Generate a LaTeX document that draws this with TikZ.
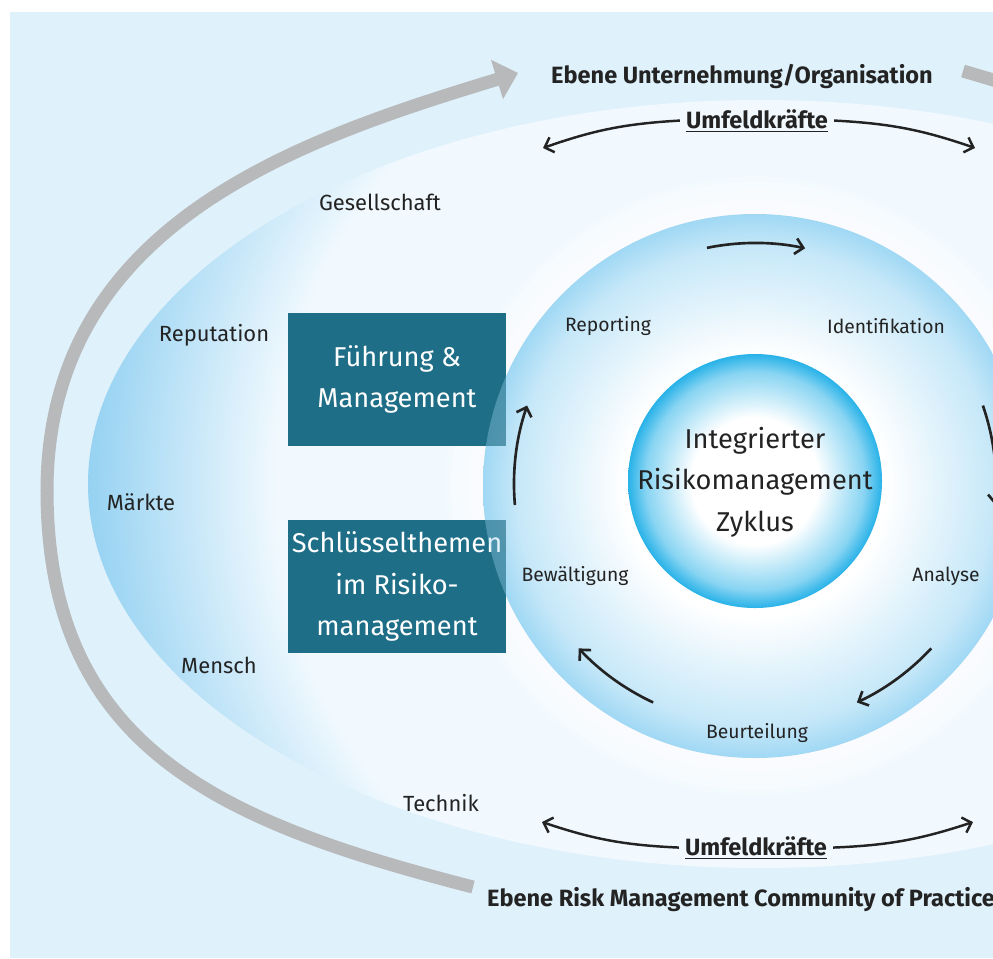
\documentclass[tikz,border=0pt]{standalone}
\usepackage{fontspec}
\setmainfont{Fira Sans}
\usetikzlibrary{arrows.meta}

\definecolor{bgblue}{RGB}{223,241,251}
\definecolor{ellpale}{RGB}{241,249,254}
\definecolor{rimblue}{RGB}{150,210,242}
\definecolor{cycblue}{RGB}{160,216,244}
\colorlet{cycmid}{cycblue!60}
\definecolor{coreblue}{RGB}{40,178,232}
\colorlet{coremid}{coreblue!55}
\definecolor{boxteal}{RGB}{31,110,135}
\definecolor{arcgray}{RGB}{184,185,187}
\definecolor{txt}{RGB}{35,35,35}

\pgfdeclareradialshading{rimshade}{\pgfpoint{0bp}{0bp}}{color(0bp)=(ellpale); color(18bp)=(ellpale); color(25bp)=(rimblue); color(50bp)=(rimblue)}
\pgfdeclareradialshading{cycshade}{\pgfpoint{0bp}{0bp}}{color(0bp)=(white); color(12bp)=(white); color(22bp)=(cycmid); color(25bp)=(cycblue); color(50bp)=(cycblue)}
\pgfdeclareradialshading{coreshade}{\pgfpoint{0bp}{0bp}}{color(0bp)=(white); color(12.5bp)=(white); color(21.5bp)=(coremid); color(25bp)=(coreblue); color(50bp)=(coreblue)}

\begin{document}
\begin{tikzpicture}[x=0.02cm,y=-0.02cm,
	lbl/.style={font=\fontsize{12.5}{15}\selectfont, text=txt},
	cyclbl/.style={font=\fontsize{11}{13}\selectfont, text=txt},
	ebene/.style={font=\bfseries\fontsize{13.4}{16}\selectfont, text=txt, anchor=base},
	box/.style={fill=boxteal, text=white, align=center, minimum width=4.38cm, minimum height=2.66cm, inner sep=0pt, font=\fontsize{15.5}{23.5}\selectfont},
	umf/.style={-{Straight Barb[length=4.5pt,width=9pt]}, line width=1.4pt, txt},
	cyc/.style={-{Straight Barb[length=4.5pt,width=9pt]}, line width=1.5pt, txt},
	grayarc/.style={arcgray, line width=7.4pt}]
	\useasboundingbox (0,0) rectangle (993,958);
	\fill[bgblue] (10,12) rectangle (993,958);
	\begin{scope}
		\clip (760,484) ellipse [x radius=672, y radius=384];
		\shade[shading=rimshade] (760,484) circle (672);
	\end{scope}
	\draw[grayarc] (473,887) .. controls (220,822) and (47,748) .. (47,490);
	\draw[grayarc, -{Triangle[length=12.5pt,width=22.7pt]}] (47,491) .. controls (47,224) and (298,140) .. (518,73);
	\draw[grayarc] (963,71) -- (1000,82);

	\foreach \r in {310,304,...,274}
		\fill[white, opacity=.2] (755,486) circle (\r);
	\shade[shading=cycshade] (755,486) circle (272);
	\shade[shading=coreshade] (755,481) circle (127);

	\node[box] (fm) at (397,379.5) {Führung \&\\Management};
	\node[box] (sr) at (397,586.5) {Schlüsselthemen\\im Risiko-\\management};
	\begin{scope}
		\clip (755,486) circle (272);
		\clip (287,313) rectangle (506,653);
		\shade[shading=cycshade, opacity=.35] (755,486) circle (272);
	\end{scope}

	\node[font=\fontsize{15.5}{23.5}\selectfont, text=txt, align=center] (zyk) at (755,482) {Integrierter\\Risikomanagement\\Zyklus};

	\node[cyclbl] (repo) at (608,326) {Reporting};
	\node[cyclbl] (iden) at (886,326) {Identifikation};
	\node[cyclbl] (anal) at (946,576) {Analyse};
	\node[cyclbl] (beur) at (757,733) {Beurteilung};
	\node[cyclbl] (bew) at (575,576) {Bewältigung};
	\begin{scope}[shift={(755,484)}, y=0.02cm]
		\foreach \a/\b in {101.5/78, 19/-5, -43/-65, 245/223, 185/161}
			\draw[cyc] (\a:241) arc[start angle=\a, end angle=\b, radius=241];
	\end{scope}

	\node[lbl] (ges) at (380,202) {Gesellschaft};
	\node[lbl] (rep) at (214,335) {Reputation};
	\node[lbl] (mae) at (141,502) {Märkte};
	\node[lbl] (men) at (219,665) {Mensch};
	\node[lbl] (tec) at (441,803) {Technik};

	\node[ebene] (ebeneU) at (742,83) {Ebene Unternehmung/Organisation};
	\node[ebene] (umfT) at (757,128) {\underline{Umfeldkräfte}};
	\node[ebene] (umfB) at (756,855) {\underline{Umfeldkräfte}};
	\node[ebene, anchor=base west] (ebeneR) at (481,906) {Ebene Risk Management Community of Practice};
	\coordinate (tl) at (543,148);
	\coordinate (tr) at (975,148);
	\coordinate (bl) at (542,822);
	\coordinate (br) at (973,822);
	\draw[umf] (umfT.west) to[bend right=8] (tl);
	\draw[umf] (umfT.east) to[bend left=8] (tr);
	\draw[umf] (umfB.west) to[bend left=8] (bl);
	\draw[umf] (umfB.east) to[bend right=8] (br);
\end{tikzpicture}
\end{document}
